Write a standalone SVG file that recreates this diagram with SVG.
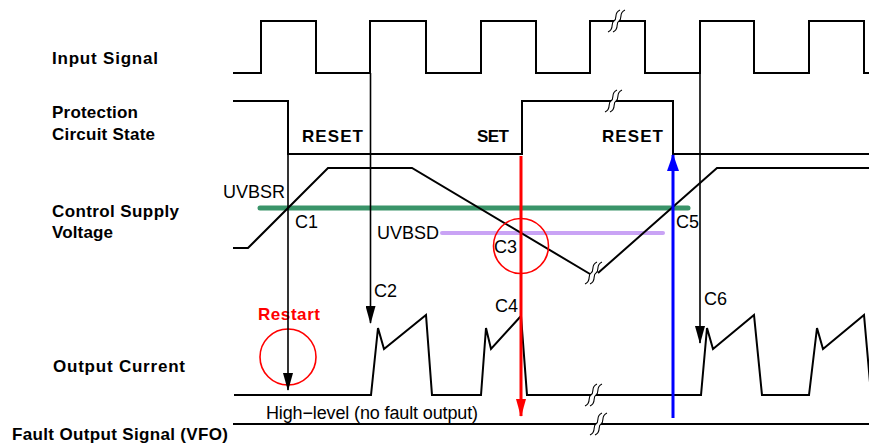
<svg xmlns="http://www.w3.org/2000/svg" xmlns:xlink="http://www.w3.org/1999/xlink" width="869" height="444" viewBox="0 0 869 444">
<style>
.wave{fill:none;stroke:#000;stroke-width:2;stroke-linejoin:miter}
.conn{fill:none;stroke:#000;stroke-width:1.6}
.lbl{font-family:"Liberation Sans",Arial,sans-serif;font-weight:bold;font-size:17px;fill:#000}
.txt{font-family:"Liberation Sans",Arial,sans-serif;font-size:18px;fill:#000}
.brk{fill:none;stroke:#000;stroke-width:1.1}
</style>
<defs>
<marker id="ah" viewBox="0 0 18 10" refX="17" refY="5" markerWidth="18" markerHeight="10" markerUnits="userSpaceOnUse" orient="auto"><path d="M0,0 L18,5 L0,10 Z" fill="#000"/></marker>
<marker id="ahr" viewBox="0 0 18 10" refX="17" refY="5" markerWidth="18" markerHeight="10" markerUnits="userSpaceOnUse" orient="auto"><path d="M0,0 L18,5 L0,10 Z" fill="#f00"/></marker>
<marker id="ahb" viewBox="0 0 17 12" refX="16" refY="6" markerWidth="17" markerHeight="12" markerUnits="userSpaceOnUse" orient="auto"><path d="M0,0 L17,6 L0,12 Z" fill="#00f"/></marker>
<g id="brk">
<path d="M-6,11 C1,8 -4,2 0,0 C4,-2 -1,-8 6,-11" transform="translate(2.5,0)" fill="none" stroke="#fff" stroke-width="4"/>
<path class="brk" d="M-6,11 C1,8 -4,2 0,0 C4,-2 -1,-8 6,-11"/>
<path class="brk" d="M-6,11 C1,8 -4,2 0,0 C4,-2 -1,-8 6,-11" transform="translate(5,0)"/>
</g>
</defs>
<rect width="869" height="444" fill="#fff"/>

<g id="labels">
<text class="lbl" x="52" y="64" textLength="106" lengthAdjust="spacing">Input Signal</text>
<text class="lbl" x="52" y="118" textLength="86" lengthAdjust="spacing">Protection</text>
<text class="lbl" x="52" y="140" textLength="103" lengthAdjust="spacing">Circuit State</text>
<text class="lbl" x="52" y="217" textLength="127" lengthAdjust="spacing">Control Supply</text>
<text class="lbl" x="52" y="238" textLength="61" lengthAdjust="spacing">Voltage</text>
<text class="lbl" x="53" y="372" textLength="132" lengthAdjust="spacing">Output Current</text>
<text class="lbl" x="12" y="440" textLength="216" lengthAdjust="spacing">Fault Output Signal (VFO)</text>
</g>

<g id="input-signal">
<path class="wave" d="M233,73 H261 V21 H316 V73 H370 V21 H426 V73 H481 V21 H536 V73 H590 V21 H645 V73 H700 V21 H754 V73 H809 V21 H864 V73 H869"/>
<use href="#brk" x="614" y="21"/>
</g>

<g id="protection-state">
<path class="wave" d="M233,101 H288 V154 H522 V101 H673 V154 H869"/>
<use href="#brk" x="611" y="101"/>
<text class="lbl" x="302" y="142" textLength="61" lengthAdjust="spacing">RESET</text>
<text class="lbl" x="477" y="142" textLength="32" lengthAdjust="spacing">SET</text>
<text class="lbl" x="602" y="142" textLength="61" lengthAdjust="spacing">RESET</text>
</g>

<g id="control-supply">
<line x1="260" y1="208" x2="688" y2="208" stroke="#3a9469" stroke-width="5" stroke-linecap="round"/>
<line x1="442" y1="233" x2="663" y2="233" stroke="#c9a3f5" stroke-width="4" stroke-linecap="round"/>
<path class="wave" d="M233,248 H248 L328,168 H412 L590,274"/>
<path class="wave" d="M598,273 L717,168 H869"/>
<use href="#brk" x="591" y="273"/>
<text class="txt" x="223" y="198">UVBSR</text>
<text class="txt" x="295" y="228">C1</text>
<text class="txt" x="377" y="239">UVBSD</text>
<text class="txt" x="494" y="253">C3</text>
<text class="txt" x="676" y="228">C5</text>
<circle cx="521" cy="246" r="27.5" fill="none" stroke="#f00" stroke-width="1.6"/>
</g>

<g id="output-current">
<path class="wave" d="M234,395 H371 L378,328 L384,349 L426,315 L432,395 H481 L486,328 L491,349 L521,316 L527,395 H701 L707,328 L713,349 L754,315 L762,395 H809 L817,328 L823,349 L864,315 L872,405"/>
<use href="#brk" x="591" y="395"/>
<text class="lbl" x="258" y="320" style="fill:#f00" textLength="62" lengthAdjust="spacing">Restart</text>
<circle cx="288" cy="357" r="28" fill="none" stroke="#f00" stroke-width="1.6"/>
<text class="txt" x="374" y="297">C2</text>
<text class="txt" x="495" y="312">C4</text>
<text class="txt" x="704" y="305">C6</text>
</g>

<g id="fault-output">
<path class="wave" d="M233,424 H869"/>
<use href="#brk" x="596" y="424"/>
<text class="txt" x="266" y="419" textLength="212" lengthAdjust="spacing">High−level (no fault output)</text>
</g>

<g id="connectors">
<line class="conn" x1="288" y1="154" x2="288" y2="390" marker-end="url(#ah)"/>
<line class="conn" x1="370.5" y1="73" x2="370.5" y2="323" marker-end="url(#ah)"/>
<line class="conn" x1="700" y1="73" x2="700" y2="343" marker-end="url(#ah)"/>
<line x1="521" y1="156" x2="521" y2="416" stroke="#f00" stroke-width="3" marker-end="url(#ahr)"/>
<line x1="673" y1="418" x2="673" y2="155" stroke="#00f" stroke-width="3" marker-end="url(#ahb)"/>
</g>
</svg>
